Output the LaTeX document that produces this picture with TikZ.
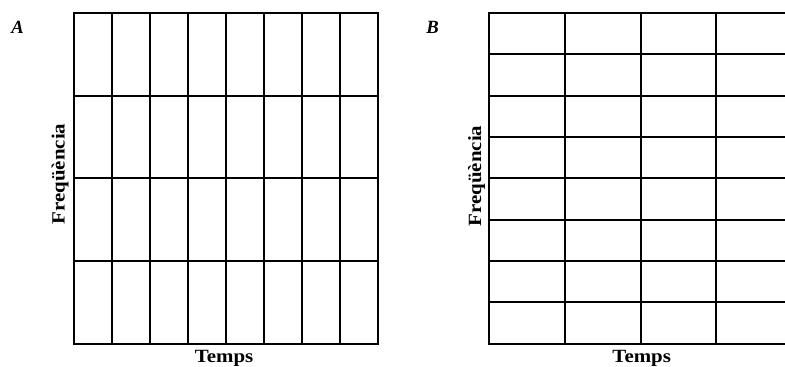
\documentclass[tikz,border=0pt]{standalone}
\usepackage{fontspec}
\setmainfont{Liberation Serif}
\usetikzlibrary{positioning}
\tikzset{
  every picture/.style={line width=1.5pt},
  gridline/.style={draw=black, line cap=rect},
  panel/.style={font=\fontsize{14}{16}\selectfont\bfseries\itshape, inner sep=0pt},
  axislbl/.style={font=\fontsize{14}{16}\selectfont\bfseries, inner sep=0pt},
}
\newcommand{\wide}[1]{\scalebox{1.12}[1]{#1}}

\begin{document}
\begin{tikzpicture}[x=0.75pt, y=-0.75pt]
  \clip (0,0) rectangle (785,367);
  % grid A: 8 columns, 4 rows
  \foreach \i in {0,...,8} \draw[gridline] (73.7+38*\i, 13) -- (73.7+38*\i, 343.7);
  \foreach \j in {0,...,4} \draw[gridline] (73.7, 13+82.675*\j) -- (377.7, 13+82.675*\j);
  % grid B: 4 columns, 8 rows
  \foreach \i in {0,...,4} \draw[gridline] (489.3+75.7*\i, 13) -- (489.3+75.7*\i, 343.7);
  \foreach \j in {0,...,8} \draw[gridline] (489.3, 13+41.34*\j) -- (792.1, 13+41.34*\j);
  % labels
  \node[panel] (labA) at (17.7, 27.5) {A};
  \node[panel] (labB) at (432.7, 27.5) {B};
  \node[axislbl, anchor=base] (tempsA) at (224, 362.5) {\wide{Temps}};
  \node[axislbl, anchor=base] (tempsB) at (641.7, 362.5) {\wide{Temps}};
  \node[axislbl, anchor=base, rotate=90] (freqA) at (64.5, 174) {\wide{Freqüència}};
  \node[axislbl, anchor=base, rotate=90] (freqB) at (481, 176) {\wide{Freqüència}};
\end{tikzpicture}
\end{document}
